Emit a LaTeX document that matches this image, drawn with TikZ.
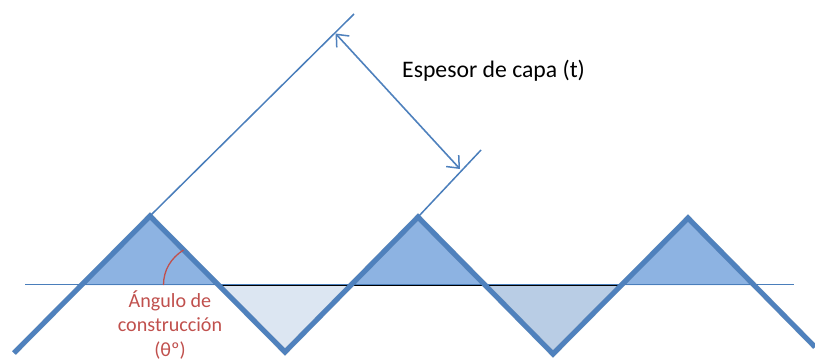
\documentclass[tikz,border=0pt]{standalone}
\usepackage{fontspec}
\setmainfont{Carlito}
\usetikzlibrary{arrows.meta}
\definecolor{zig}{HTML}{4F81BD}
\definecolor{zigline}{HTML}{4A7EBB}
\definecolor{upfill}{HTML}{8DB3E2}
\definecolor{lightfill}{HTML}{DCE6F2}
\definecolor{midfill}{HTML}{B9CDE5}
\definecolor{redtxt}{HTML}{C0504D}
\tikzset{
  thinblue/.style={draw=zigline,line width=1.5bp},
  zigzag/.style={draw=zig,line width=5bp,line join=miter,line cap=butt},
  zigshadow/.style={draw=black,opacity=0.14,line width=5.4bp,line join=miter},
  dimarrow/.style={draw=zig,line width=1.6bp,{Straight Barb[length=10bp,width=17bp,line width=1.5bp]}-{Straight Barb[length=10bp,width=17bp,line width=1.5bp]}},
  baseblack/.style={draw=black,line width=0.7bp},
  anglearc/.style={draw=redtxt,line width=1.3bp},
  reflabel/.style={font=\fontsize{23.7bp}{28bp}\selectfont,text=black,inner sep=0pt,anchor=base west},
  anglabel/.style={font=\fontsize{20.1bp}{24.5bp}\selectfont,text=redtxt,inner sep=0pt,align=center,anchor=base}
}
\begin{document}
\begin{tikzpicture}[x=1bp,y=-1bp]
\useasboundingbox (0,0) rectangle (815,358);
% zigzag vertices
\coordinate (z0) at (14,353);
\coordinate (a1) at (150,216);
\coordinate (v1) at (285,352);
\coordinate (a2) at (418,217);
\coordinate (v2) at (553,354);
\coordinate (a3) at (688,218);
\coordinate (z1) at (815,347);
% crossings with the base line
\coordinate (c1) at (82,285);
\coordinate (c2) at (219,285);
\coordinate (c3) at (351,285);
\coordinate (c4) at (485,285);
\coordinate (c5) at (621,285);
\coordinate (c6) at (755,285);
% fills
\fill[upfill] (c1) -- (a1) -- (c2) -- cycle;
\fill[upfill] (c3) -- (a2) -- (c4) -- cycle;
\fill[upfill] (c5) -- (a3) -- (c6) -- cycle;
\fill[lightfill] (c2) -- (v1) -- (c3) -- cycle;
\fill[midfill] (c4) -- (v2) -- (c5) -- cycle;
% base line
\coordinate (bl) at (25,284.4);
\coordinate (br) at (794,284.4);
\coordinate (kl) at (222,285.7);
\coordinate (kr) at (621,285.7);
\draw[baseblack] (kl) -- (kr);
\draw[thinblue] (bl) -- (br);
% zigzag
\draw[zigshadow,xshift=0.8bp,yshift=-1.2bp] (z0) -- (a1) -- (v1) -- (a2) -- (v2) -- (a3) -- (z1);
\draw[zigzag] (z0) -- (a1) -- (v1) -- (a2) -- (v2) -- (a3) -- (z1);
% thickness guides
\coordinate (t1) at (354,14);
\coordinate (t2) at (481,150);
\draw[thinblue] (a1) -- (t1);
\draw[thinblue] (a2) -- (t2);
\coordinate (d1) at (335.5,33.5);
\coordinate (d2) at (460,169);
\draw[dimarrow] (d1) -- (d2);
% angle
\coordinate (ar1) at (163.5,285);
\coordinate (ar2) at (183.5,250);
\draw[anglearc] (ar1) .. controls (163.5,270) and (171,258) .. (ar2);
% labels
\node[reflabel] (espesor) at (402,77) {Espesor de capa (t)};
\node[anglabel] (angulo) at (170,356) {Ángulo de\\construcción\\(θº)};
\end{tikzpicture}
\end{document}
